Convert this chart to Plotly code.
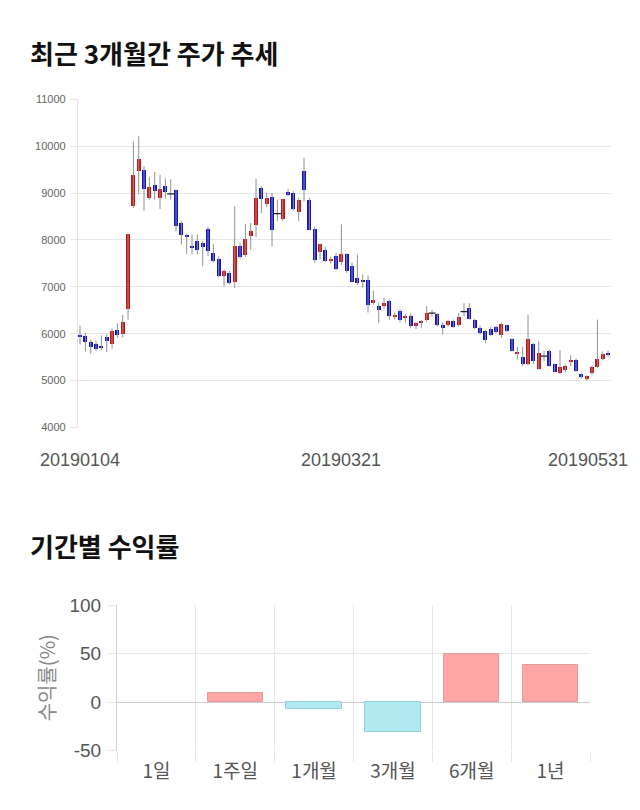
import pandas as pd
import plotly.graph_objects as go

# ---------------- data ----------------
opens = [5960, 5950, 5830, 5790, 5720, 5940, 5790, 6070, 6000, 6520,
         8720, 9480, 9500, 8900, 9180, 8900, 9140, 8980, 9070, 8350,
         8110, 7880, 7970, 7930, 8240, 7720, 7590, 7240, 7300, 7100,
         7880, 7670, 8090, 8310, 9110, 8760, 8910, 8560, 8450, 9020,
         9000, 8590, 9480, 8860, 8230, 7740, 7790, 7560, 7660, 7520,
         7690, 7440, 7190, 7150, 7150, 6650, 6600, 6600, 6690, 6370,
         6490, 6330, 6370, 6170, 6220, 6290, 6440, 6420, 6190, 6190,
         6280, 6180, 6470, 6540, 6300, 6120, 6050, 6100, 6140, 5980,
         6180, 5890, 5580, 5510, 5360, 5770, 5250, 5520, 5630, 5350,
         5160, 5230, 5400, 5440, 5130, 5030, 5160, 5300, 5470, 5590]
highs = [6170, 6020, 5870, 5850, 5960, 5990, 6110, 6220, 6400, 8130,
         10100, 10210, 9570, 9340, 9450, 9390, 9310, 9290, 9080, 8400,
         8130, 8110, 8120, 7970, 8280, 7910, 7650, 7370, 7340, 8720,
         7940, 8340, 8360, 9300, 9150, 9000, 9000, 8860, 8880, 9090,
         9040, 8900, 9750, 8900, 8290, 7920, 7850, 7640, 7720, 8330,
         7720, 7510, 7690, 7260, 7240, 6920, 6660, 6760, 6730, 6450,
         6520, 6420, 6440, 6250, 6290, 6590, 6510, 6440, 6240, 6300,
         6300, 6440, 6650, 6650, 6320, 6170, 6080, 6140, 6170, 6230,
         6190, 5900, 5720, 5720, 6400, 5800, 5840, 5630, 5660, 5360,
         5650, 5340, 5540, 5470, 5160, 5110, 5320, 6300, 5620, 5640]
lows = [5770, 5620, 5570, 5630, 5640, 5610, 5680, 5910, 5920, 6300,
        8680, 8970, 8620, 8860, 8860, 8660, 8880, 8860, 8180, 7900,
        7700, 7690, 7690, 7440, 7660, 7510, 7200, 7010, 7050, 6970,
        7600, 7640, 7790, 8060, 8570, 8700, 7860, 8400, 8400, 8930,
        8620, 8400, 8820, 8200, 7510, 7580, 7530, 7490, 7350, 7470,
        7300, 7090, 7040, 6980, 6450, 6620, 6230, 6530, 6300, 6300,
        6240, 6230, 6120, 6100, 6130, 6250, 6370, 6150, 5980, 6150,
        6120, 6150, 6370, 6300, 6100, 5980, 5800, 5950, 6010, 5910,
        6040, 5620, 5450, 5310, 5330, 5350, 5230, 5420, 5290, 5170,
        5140, 5180, 5310, 5180, 5040, 4990, 5120, 5270, 5430, 5510]
closes = [5940, 5830, 5710, 5680, 5700, 5840, 6060, 5980, 6250, 8130,
          9380, 9730, 9090, 9130, 9050, 9090, 9020, 8980, 8290, 8100,
          8070, 7830, 7780, 7850, 7760, 7560, 7240, 7330, 7090, 7880,
          7640, 8010, 8200, 8900, 8870, 8900, 8220, 8560, 8870, 8950,
          8650, 8860, 9060, 8220, 7580, 7910, 7560, 7590, 7380, 7690,
          7330, 7100, 7080, 7110, 6620, 6710, 6510, 6650, 6370, 6400,
          6290, 6380, 6160, 6230, 6280, 6440, 6440, 6180, 6120, 6260,
          6150, 6350, 6470, 6310, 6120, 6010, 5860, 5970, 6030, 6210,
          6050, 5630, 5600, 5350, 5890, 5420, 5590, 5520, 5310, 5190,
          5280, 5310, 5440, 5200, 5070, 5100, 5300, 5470, 5560, 5540]

holidays = ["20190101", "20190204", "20190205", "20190206",
            "20190301", "20190501", "20190506"]
dates = [d.strftime("%Y%m%d") for d in pd.bdate_range("2019-01-04", "2019-05-31")
         if d.strftime("%Y%m%d") not in holidays]
tick_dates = ["20190104", "20190321", "20190531"]
price_ticks = [4000, 5000, 6000, 7000, 8000, 9000, 10000, 11000]

period_labels = ["1일", "1주일", "1개월", "3개월", "6개월", "1년"]
period_returns = [0.0, 9.0, -6.8, -31.2, 49.7, 38.6]
return_ticks = [-50, 0, 50, 100]

# ---------------- styles ----------------
UP = "#cc1414"
DOWN = "#1414c4"
WICK = "#909090"
GRID = "#e6e6e6"
POS_FILL = "#ffa5a5"
POS_LINE = "#e49b9b"
NEG_FILL = "#b0e9f2"
NEG_LINE = "#93cfdb"
NUM_FONT = "Liberation Sans, Arial, Noto Sans CJK KR, sans-serif"
KR_FONT = "Noto Sans CJK KR, sans-serif"
DATE_LABEL_ANCHOR = ["center", "center", "right"]
DATE_LABEL_SHIFT = [0, -6, 22]

H = 810.0
W = 640.0

fig = go.Figure()

# wicks
wx, wy = [], []
for d, lo, hi in zip(dates, lows, highs):
    wx += [d, d, None]
    wy += [lo, hi, None]
fig.add_trace(go.Scatter(x=wx, y=wy, mode="lines", line=dict(color=WICK, width=1),
                         hoverinfo="skip", showlegend=False, xaxis="x", yaxis="y"))

# bodies
body_base = [min(o, c) for o, c in zip(opens, closes)]
body_len = [abs(c - o) for o, c in zip(opens, closes)]
body_col = [UP if c > o else DOWN for o, c in zip(opens, closes)]
fig.add_trace(go.Bar(x=dates, y=body_len, base=body_base, width=0.74,
                     marker=dict(color=body_col, line=dict(width=0)),
                     showlegend=False, xaxis="x", yaxis="y"))

# doji marks
dx = [d for d, o, c in zip(dates, opens, closes) if o == c]
dy = [o for o, c in zip(opens, closes) if o == c]
fig.add_trace(go.Scatter(x=dx, y=dy, mode="markers",
                         marker=dict(symbol="line-ew", size=5, line=dict(color="#222", width=1.2)),
                         showlegend=False, xaxis="x", yaxis="y"))

# returns bars
fig.add_trace(go.Bar(x=period_labels, y=period_returns, width=0.7,
                     marker=dict(color=[POS_FILL if v > 0 else NEG_FILL for v in period_returns],
                                 line=dict(color=[POS_LINE if v > 0 else (NEG_LINE if v < 0 else "rgba(0,0,0,0)")
                                                  for v in period_returns], width=1)),
                     showlegend=False, xaxis="x2", yaxis="y2"))

# x tick labels of the price chart as annotations (last one kept inside the canvas)
for d, anchor, shift in zip(tick_dates, DATE_LABEL_ANCHOR, DATE_LABEL_SHIFT):
    fig.add_annotation(x=dates.index(d), y=1 - 460 / H, xref="x", yref="paper",
                       yanchor="middle", xanchor=anchor, xshift=shift, text=d,
                       showarrow=False, font=dict(family=NUM_FONT, size=18, color="#555"))

fig.update_layout(
    width=640, height=810,
    margin=dict(l=0, r=0, t=0, b=0, autoexpand=False),
    paper_bgcolor="white", plot_bgcolor="white",
    bargap=0, showlegend=False,
    xaxis=dict(type="category", domain=[77.9 / W, 610.7 / W], range=[-0.4, 99.5],
               showticklabels=False, showgrid=False, zeroline=False, ticks="",
               automargin=False, anchor="y"),
    yaxis=dict(domain=[1 - 427.7 / H, 1 - 99 / H], range=[3995, 11005],
               tickvals=price_ticks, ticktext=[str(v) for v in price_ticks],
               showgrid=True, gridcolor=GRID, gridwidth=1,
               zeroline=False, showline=True, linecolor=GRID, ticks="outside",
               ticklen=7, tickcolor=GRID, ticklabelstandoff=2, automargin=False,
               tickfont=dict(family=NUM_FONT, size=11, color="#666"), anchor="x"),
    xaxis2=dict(type="category", domain=[117 / W, 590 / W], tickson="boundaries",
                showgrid=True, gridcolor=GRID, ticks="outside", ticklen=10, tickcolor=GRID,
                showline=False, zeroline=False, ticklabelstandoff=7, automargin=False,
                tickfont=dict(family=KR_FONT, size=19, color="#555"), anchor="y2"),
    yaxis2=dict(domain=[1 - 750.5 / H, 1 - 605 / H], range=[-50, 100],
                tickvals=return_ticks, ticktext=[str(v) for v in return_ticks],
                showgrid=True, gridcolor=GRID,
                zeroline=True, zerolinecolor="#cccccc", zerolinewidth=1,
                showline=True, linecolor="#d0d0d0", mirror=False, automargin=False,
                ticks="outside", ticklen=9, tickcolor=GRID, ticklabelstandoff=2,
                tickfont=dict(family=NUM_FONT, size=19, color="#555"),
                title=dict(text="수익률(%)", standoff=8,
                           font=dict(family=KR_FONT, size=20, color="#888")),
                anchor="x2"),
)

fig.add_annotation(x=28 / W, y=1 - 52 / H, xref="paper", yref="paper", xanchor="left",
                   yanchor="middle", showarrow=False, text="<b>최근 3개월간 주가 추세</b>",
                   font=dict(family=KR_FONT, size=26, color="#111"))
fig.add_annotation(x=28 / W, y=1 - 545 / H, xref="paper", yref="paper", xanchor="left",
                   yanchor="middle", showarrow=False, text="<b>기간별 수익률</b>",
                   font=dict(family=KR_FONT, size=26, color="#111"))

fig.write_html("out.html")
